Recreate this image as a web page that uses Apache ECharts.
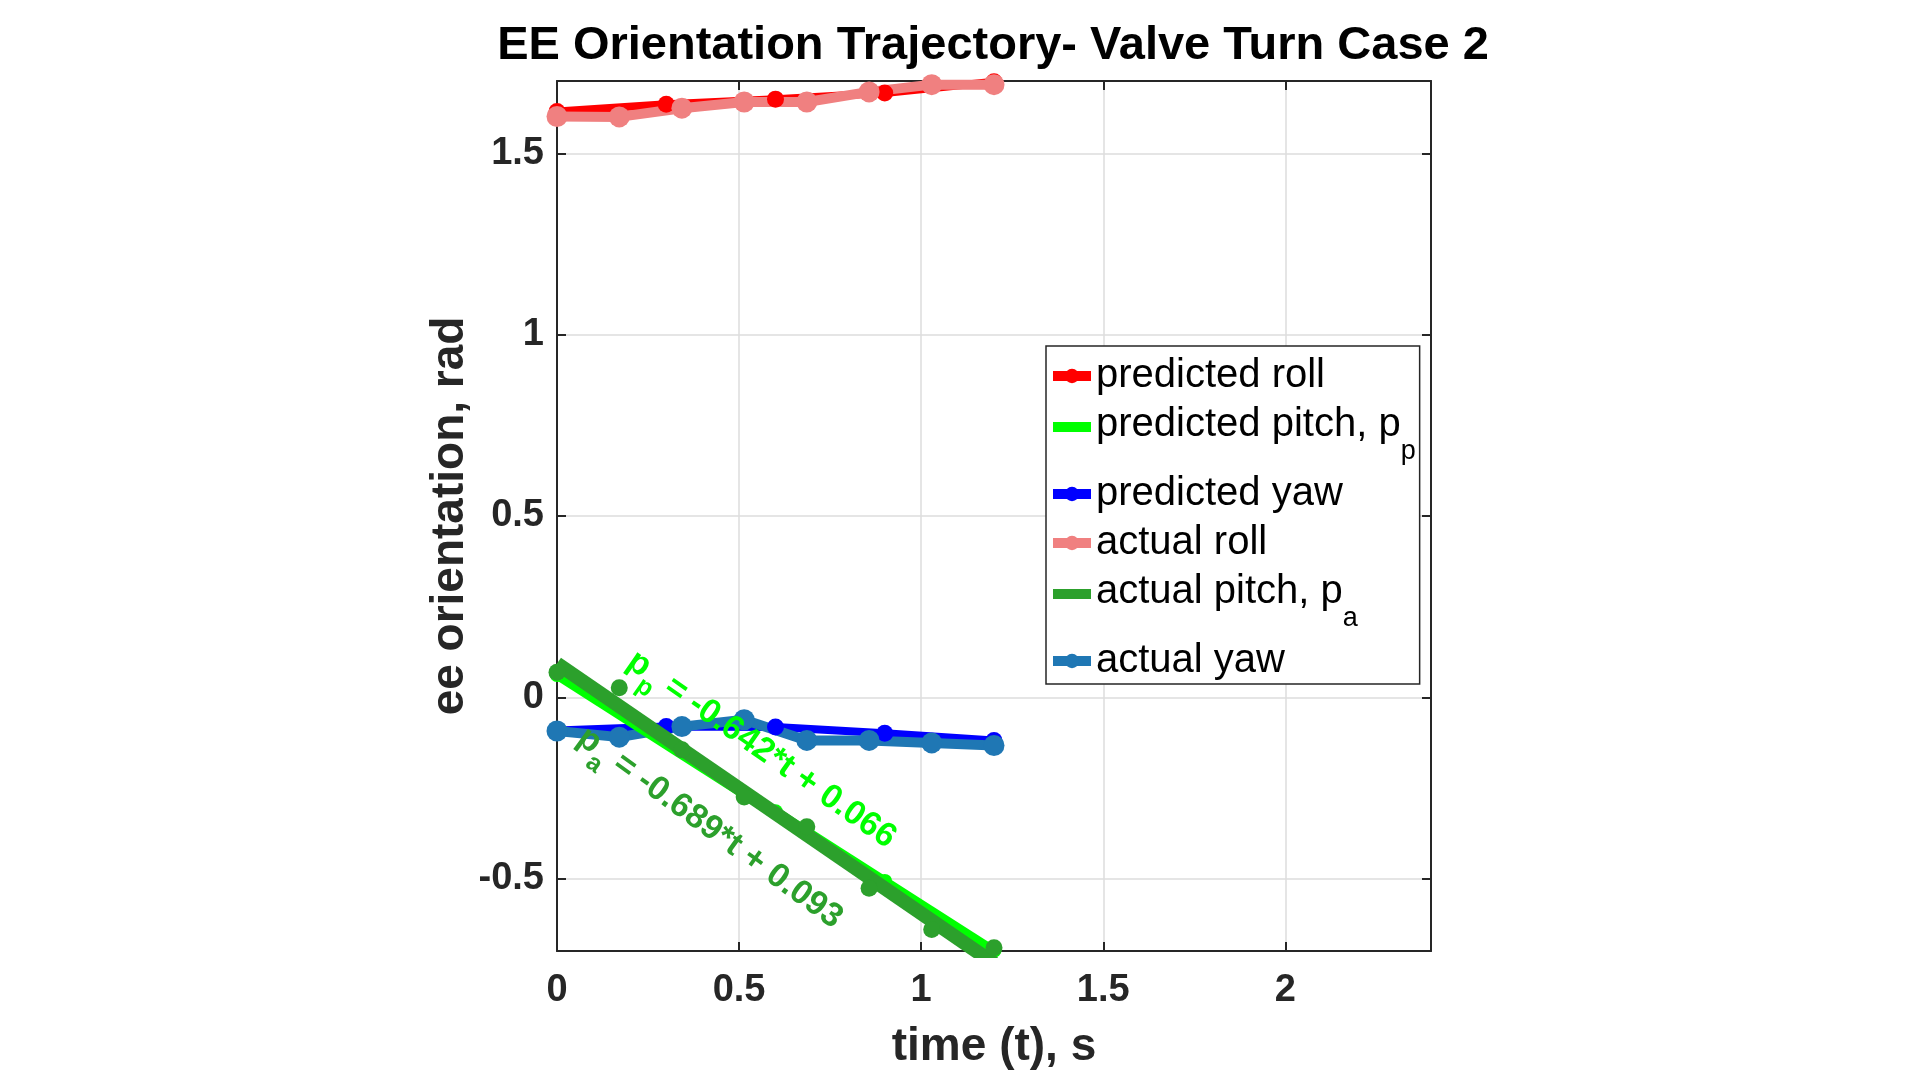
<!DOCTYPE html>
<html>
<head>
<meta charset="utf-8">
<title>EE Orientation Trajectory</title>
<script src="https://cdn.jsdelivr.net/npm/echarts@6/dist/echarts.min.js"></script>
<style>
  html, body { margin: 0; padding: 0; background: #fff; }
  #container { width: 1920px; height: 1075px; }
</style>
</head>
<body>
<div id="container"></div>
<script>
// time stamps
var predT = [0, 0.3, 0.6, 0.9, 1.2];
var actT = [0, 0.171, 0.343, 0.514, 0.686, 0.857, 1.029, 1.2];
var fitT = [0, 1.2];

// predicted orientation
var predRoll = [1.616, 1.636, 1.650, 1.667, 1.698];
var predPitch = [0.063, -0.120, -0.316, -0.508, -0.698];
var predYaw = [-0.092, -0.081, -0.082, -0.099, -0.119];

// actual orientation
var actRoll = [1.602, 1.601, 1.625, 1.642, 1.642, 1.670, 1.690, 1.690];
var actPitch = [0.069, 0.026, -0.145, -0.275, -0.357, -0.527, -0.641, -0.691];
var actYaw = [-0.093, -0.110, -0.081, -0.062, -0.119, -0.119, -0.126, -0.133];

// linear fits of pitch (from the equations on the plot)
var predPitchFit = [0.066, -0.704];
var actPitchFit = [0.093, -0.734];

var legendNames = ['predicted roll', 'predicted pitch', 'predicted yaw', 'actual roll', 'actual pitch', 'actual yaw'];

var FONT = '"Liberation Sans", Arial, sans-serif';

function pairs (xs, ys) {
  return xs.map(function (x, i) { return [x, ys[i]]; });
}

var dom = document.getElementById('container');
var myChart = echarts.init(dom);

function dotLine (name, xs, ys, color, width, size) {
  return {
    name: name,
    type: 'line',
    data: pairs(xs, ys),
    symbol: 'circle',
    symbolSize: size,
    showAllSymbol: true,
    lineStyle: { color: color, width: width },
    itemStyle: { color: color },
    emphasis: { disabled: true },
    z: 2
  };
}

function fitLine (name, ys, color, width, z) {
  return {
    name: name,
    type: 'line',
    data: pairs(fitT, ys),
    symbol: 'none',
    lineStyle: { color: color, width: width },
    itemStyle: { color: color },
    emphasis: { disabled: true },
    z: z
  };
}

// rotated fit equation, anchored at a point in data space
function equation (pos, text, color, angle) {
  return {
    type: 'scatter',
    data: [pos],
    symbolSize: 1,
    itemStyle: { color: 'rgba(0,0,0,0)' },
    silent: true,
    z: 10,
    label: {
      show: true,
      position: 'inside',
      rotate: angle,
      opacity: 1,
      formatter: text,
      rich: {
        m: { fontSize: 34, fontWeight: 'bold', color: color, fontFamily: FONT, padding: [0, 0, 12, 0], verticalAlign: 'bottom' },
        s: { fontSize: 25, fontWeight: 'bold', color: color, fontFamily: FONT, verticalAlign: 'bottom' }
      }
    }
  };
}

var axisText = { color: '#262626', fontSize: 38, fontWeight: 'bold', fontFamily: FONT };

// pitch fits show a plain line in the legend, no dot
var legendData = legendNames.map(function (name) {
  if (name.indexOf('pitch') > -1) return { name: name, itemStyle: { opacity: 0 } };
  return { name: name };
});

var option = {
  animation: false,
  backgroundColor: '#fff',
  title: {
    text: 'EE Orientation Trajectory- Valve Turn Case 2',
    left: 988,
    textAlign: 'center',
    top: 18,
    textStyle: { color: '#000', fontSize: 47, fontWeight: 'bold', fontFamily: FONT }
  },
  legend: {
    data: legendData,
    orient: 'vertical',
    left: 1046,
    top: 346,
    padding: [10, 4, 3, 2],
    itemGap: 9,
    itemWidth: 38,
    itemHeight: 18,
    selectedMode: false,
    backgroundColor: '#fff',
    borderColor: '#262626',
    borderWidth: 1.5,
    borderRadius: 0,
    lineStyle: { width: 10 },
    formatter: function (name) {
      if (name === 'predicted pitch') return '{m|predicted pitch, p}{s|p}';
      if (name === 'actual pitch') return '{m|actual pitch, p}{s|a}';
      return name;
    },
    textStyle: {
      color: '#000',
      fontSize: 40,
      fontFamily: FONT,
      rich: {
        m: { color: '#000', fontSize: 40, fontFamily: FONT, padding: [16, 0, 20, 0], verticalAlign: 'bottom' },
        s: { color: '#000', fontSize: 27, fontFamily: FONT, verticalAlign: 'bottom' }
      }
    }
  },
  grid: {
    left: 557,
    top: 81,
    width: 874,
    height: 874,
    containLabel: false
  },
  xAxis: [
    {
      type: 'value',
      min: 0,
      max: 2.4,
      interval: 0.5,
      name: 'time (t), s',
      nameLocation: 'middle',
      nameGap: 73,
      nameTextStyle: { color: '#262626', fontSize: 46, fontWeight: 'bold', fontFamily: FONT },
      axisLine: { show: true, onZero: false, lineStyle: { color: '#262626', width: 2 } },
      axisTick: { show: true, inside: true, length: 9, lineStyle: { color: '#262626', width: 2 } },
      axisLabel: Object.assign({ margin: 21, showMaxLabel: false }, axisText),
      splitLine: { show: true, lineStyle: { color: '#dcdcdc', width: 1.5 } }
    },
    {
      type: 'value',
      position: 'top',
      min: 0,
      max: 2.4,
      interval: 0.5,
      axisLine: { show: true, onZero: false, lineStyle: { color: '#262626', width: 2 } },
      axisTick: { show: true, inside: true, length: 9, lineStyle: { color: '#262626', width: 2 } },
      axisLabel: { show: false },
      splitLine: { show: false }
    }
  ],
  yAxis: [
    {
      type: 'value',
      min: -0.7,
      max: 1.7,
      splitNumber: 5,
      name: 'ee orientation, rad',
      nameLocation: 'middle',
      nameGap: 84,
      nameTextStyle: { color: '#262626', fontSize: 46, fontWeight: 'bold', fontFamily: FONT },
      axisLine: { show: true, onZero: false, lineStyle: { color: '#262626', width: 2 } },
      axisTick: { show: true, inside: true, length: 9, lineStyle: { color: '#262626', width: 2 } },
      axisLabel: Object.assign({ margin: 13, showMinLabel: false, showMaxLabel: false }, axisText),
      splitLine: { show: true, lineStyle: { color: '#dcdcdc', width: 1.5 } }
    },
    {
      type: 'value',
      position: 'right',
      min: -0.7,
      max: 1.7,
      splitNumber: 5,
      axisLine: { show: true, onZero: false, lineStyle: { color: '#262626', width: 2 } },
      axisTick: { show: true, inside: true, length: 9, lineStyle: { color: '#262626', width: 2 } },
      axisLabel: { show: false },
      splitLine: { show: false }
    }
  ],
  series: [
    dotLine('predicted roll', predT, predRoll, '#ff0000', 8, 17),
    fitLine('predicted pitch', predPitchFit, '#00ff00', 12, 4),
    dotLine('predicted yaw', predT, predYaw, '#0000ff', 8, 17),
    dotLine('actual roll', actT, actRoll, '#f08080', 10, 21),
    fitLine('actual pitch', actPitchFit, '#2ca02c', 14, 6),
    dotLine('actual yaw', actT, actYaw, '#1f77b4', 10, 21),
    {
      name: 'predicted pitch points',
      type: 'scatter',
      data: pairs(predT, predPitch),
      symbolSize: 15,
      itemStyle: { color: '#00ff00', opacity: 1 },
      emphasis: { disabled: true },
      z: 5
    },
    {
      name: 'actual pitch points',
      type: 'scatter',
      data: pairs(actT, actPitch),
      symbolSize: 17,
      itemStyle: { color: '#2ca02c', opacity: 1 },
      emphasis: { disabled: true },
      z: 7
    },
    equation([0.552, -0.158], '{m|p}{s|p}{m| = -0.642*t + 0.066}', '#00ff00', -35),
    equation([0.41, -0.374], '{m|p}{s|a}{m| = -0.689*t + 0.093}', '#2ca02c', -36)
  ]
};

if (option && typeof option === 'object') {
  myChart.setOption(option, true);
}
</script>
</body>
</html>
